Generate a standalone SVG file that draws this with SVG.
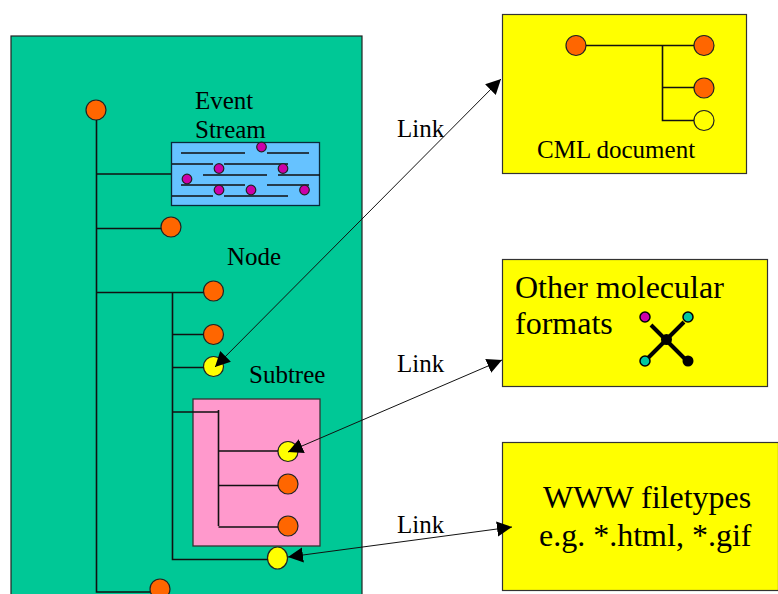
<svg xmlns="http://www.w3.org/2000/svg" width="778" height="594" viewBox="0 0 778 594">
<defs>
<marker id="ah" markerUnits="userSpaceOnUse" markerWidth="18" markerHeight="18" refX="15" refY="9" orient="auto-start-reverse"><path d="M0 1.500L15 9L0 16.500Z" fill="#000"/></marker>
</defs>
<style>
text{font-family:"Liberation Serif","Times New Roman",serif;fill:#000}
.t{font-size:25px}
.b{font-size:32px}
.l{fill:none;stroke:#111;stroke-width:1.6}
.o{fill:#ff6600;stroke:#222;stroke-width:1.2}
.y{fill:#ffff00;stroke:#222;stroke-width:1.2}
.m{fill:#cc00aa;stroke:#222;stroke-width:1.2}
.c{fill:#00c8a0;stroke:#000;stroke-width:1.5}
.box{fill:#ffff00;stroke:#333;stroke-width:1.2}
.a{fill:none;stroke:#111;stroke-width:1}
</style>
<rect width="778" height="594" fill="#fff"/>
<g id="main-panel"><rect x="11" y="36" width="351" height="570" fill="#00c896" stroke="#222" stroke-width="1.2"/></g>
<g id="event-stream">
<rect x="171.500" y="142.500" width="148" height="63" fill="#66c2ff" stroke="#0a2a3a" stroke-width="1.300"/>
<path class="l" d="M181 153H245M267 153H309M172 164H213M224 164H288M203 175H267M278 175H320M181 185H245M267 185H309M172 196H213M224 196H288"/>
<circle class="m" cx="261.500" cy="147" r="4.800"/><circle class="m" cx="219" cy="168.500" r="4.800"/><circle class="m" cx="283" cy="168.500" r="4.800"/><circle class="m" cx="187" cy="179" r="4.800"/><circle class="m" cx="219" cy="190" r="4.800"/><circle class="m" cx="251" cy="190" r="4.800"/><circle class="m" cx="304.500" cy="190" r="4.800"/>
<text class="t" x="195" y="109">Event</text><text class="t" x="195" y="138">Stream</text>
</g>
<g id="subtree-panel"><rect x="193" y="399" width="127" height="147" fill="#ff99cc" stroke="#333" stroke-width="1.300"/><text class="t" x="249" y="383">Subtree</text></g>
<g id="n-root"><circle class="o" cx="96" cy="110" r="10"/></g>
<g id="n-2"><circle class="o" cx="171" cy="227" r="10"/></g>
<g id="n-node"><circle class="o" cx="213.500" cy="291" r="10"/><text class="t" x="227" y="265">Node</text></g>
<g id="n-4"><circle class="o" cx="213.500" cy="334.500" r="10"/></g>
<g id="n-link1"><circle class="y" cx="213.500" cy="366.500" r="10"/></g>
<g id="n-s1"><circle class="y" cx="288" cy="451.500" r="10"/></g>
<g id="n-s2"><circle class="o" cx="288" cy="484" r="10"/></g>
<g id="n-s3"><circle class="o" cx="288" cy="526" r="10"/></g>
<g id="n-link3"><ellipse class="y" cx="277.500" cy="558" rx="10" ry="11"/></g>
<g id="n-bottom"><circle class="o" cx="160" cy="589" r="10"/></g>
<g id="cml-doc">
<rect class="box" x="502.500" y="14.500" width="244" height="159"/>
<circle class="o" cx="576" cy="45.500" r="10"/><circle class="o" cx="704" cy="45.500" r="10"/><circle class="o" cx="704" cy="88" r="10"/><circle class="y" cx="704" cy="120.500" r="10"/>
<text class="t" x="537" y="158">CML document</text>
</g>
<g id="other-formats">
<rect class="box" x="502.500" y="259.500" width="265" height="127"/>
<text class="b" x="515" y="298">Other molecular</text><text class="b" x="515" y="334">formats</text>
<path d="M651 325L688 362M684 322L648 358" stroke="#000" stroke-width="4" fill="none"/>
<circle cx="666.500" cy="339.500" r="5.500" fill="#000"/>
<circle cx="645" cy="317" r="5" fill="#cc00aa" stroke="#000" stroke-width="1.500"/><circle class="c" cx="688" cy="317" r="5"/><circle class="c" cx="645" cy="361" r="5"/><circle cx="688" cy="361" r="5.500" fill="#000"/>
</g>
<g id="www-filetypes">
<rect class="box" x="502.500" y="442.500" width="276" height="148"/>
<text class="b" x="543" y="508">WWW filetypes</text><text class="b" x="539" y="546">e.g. *.html, *.gif</text>
</g>
<g id="link-labels"><text class="t" x="397" y="137">Link</text><text class="t" x="397" y="372">Link</text><text class="t" x="397" y="533">Link</text></g>
<g id="connectors">
<path class="l" d="M96.500 120V592H150M96.500 174H171M96.500 228.500H161M96.500 292.500H203.500M172.500 292.500V559.500H267.500M172.500 334.500H203.500M172.500 367.500H203.500M172.500 412H218M218.500 410V526M218.500 451H278M218.500 485.500H278M218.500 527H278"/>
<path class="l" d="M586 45.500H694M662.500 45.500V120.500H694M662.500 87.500H694"/>
<path d="M215 367L501 79" class="a" marker-start="url(#ah)" marker-end="url(#ah)"/>
<path d="M288 452L502 360" class="a" marker-start="url(#ah)" marker-end="url(#ah)"/>
<path d="M288 557L512 527" class="a" marker-start="url(#ah)" marker-end="url(#ah)"/>
</g>
</svg>
